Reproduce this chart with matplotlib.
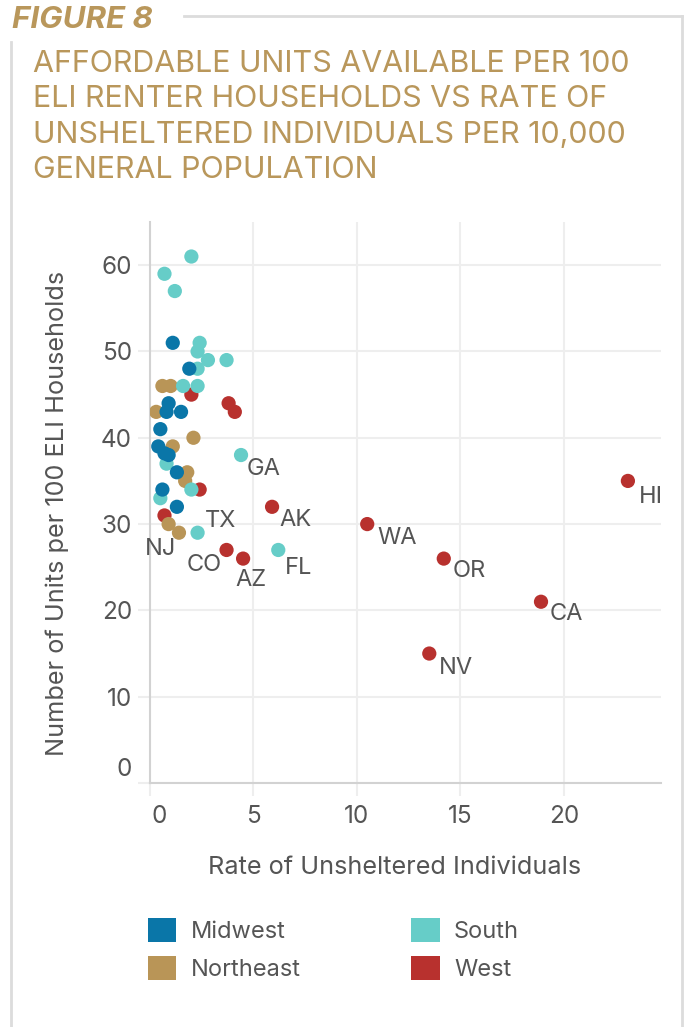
import matplotlib
matplotlib.use('Agg')
from matplotlib import pyplot as plt
from matplotlib.lines import Line2D
from matplotlib.patches import Patch
from matplotlib.transforms import ScaledTranslation

# values
midwest_x = [1.1, 1.9, 0.9, 0.8, 1.5, 0.5, 0.4, 0.7, 0.9, 1.3, 0.6, 1.3]
midwest_y = [51, 48, 44, 43, 43, 41, 39, 38.2, 38, 36, 34, 32]

northeast_x = [0.6, 1.0, 0.3, 2.1, 1.1, 1.8, 1.7, 0.9, 1.4]
northeast_y = [46, 46, 43, 40, 39, 36, 35, 30, 29]
northeast_states = ['', '', '', '', '', '', '', '', 'NJ']

south_x = [2.0, 0.7, 1.2, 2.4, 2.3, 2.8, 3.7, 2.3, 1.6, 2.3, 0.8, 4.4, 2.0, 0.5, 2.3, 6.2]
south_y = [61, 59, 57, 51, 50, 49, 49, 48, 46, 46, 37, 38, 34, 33, 29, 27]
south_states = ['', '', '', '', '', '', '', '', '', '', '', 'GA', '', '', 'TX', 'FL']

west_x = [2.0, 3.8, 4.1, 2.4, 0.7, 3.7, 4.5, 5.9, 23.1, 10.5, 14.2, 18.9, 13.5]
west_y = [45, 44, 43, 34, 31, 27, 26, 32, 35, 30, 26, 21, 15]
west_states = ['', '', '', '', '', 'CO', 'AZ', 'AK', 'HI', 'WA', 'OR', 'CA', 'NV']

x_ticks = [0, 5, 10, 15, 20]
y_ticks = [0, 10, 20, 30, 40, 50, 60]

regions = ['Midwest', 'Northeast', 'South', 'West']
colors = {'Midwest': '#0a76a8', 'Northeast': '#b99557',
          'South': '#66cdc8', 'West': '#b8312e'}

GOLD = '#b9975b'
GRAY = '#555555'
GRID = '#eeeeee'
plt.rcParams['font.family'] = ['Inter', 'DejaVu Sans']

W, H = 688, 1027
fig = plt.figure(figsize=(W / 100, H / 100), dpi=100)

# frame around the figure
for xs, ys in [((184, 682), (16, 16)), ((682, 682), (16, 1027)), ((11, 11), (42, 1027))]:
    fig.add_artist(Line2D([x / W for x in xs], [1 - y / H for y in ys],
                          color='#dcdcdc', lw=2, transform=fig.transFigure))

fig.text(12 / W, 1 - 20 / H, 'FIGURE 8', color=GOLD, fontsize=22.5,
         fontweight='bold', style='italic', va='center', ha='left')
title = ('AFFORDABLE UNITS AVAILABLE PER 100\nELI RENTER HOUSEHOLDS VS RATE OF\n'
         'UNSHELTERED INDIVIDUALS PER 10,000\nGENERAL POPULATION')
fig.text(33 / W, 1 - 50 / H, title, color=GOLD, fontsize=21.9, va='top', ha='left',
         linespacing=1.34)

ax = fig.add_axes([150 / W, 1 - 783 / H, (661 - 150) / W, (783 - 222) / H])
ax.set_xlim(0, 24.7)
ax.set_ylim(0, 65)

series = [
    ('West', west_x, west_y, west_states, 2),
    ('Northeast', northeast_x, northeast_y, northeast_states, 3),
    ('South', south_x, south_y, south_states, 4),
    ('Midwest', midwest_x, midwest_y, [''] * len(midwest_x), 5),
]

# label offsets in pixels (dx, dy, ha)
offsets = {
    'HI': (11, -16, 'left'), 'WA': (10, -14, 'left'), 'OR': (9, -12, 'left'),
    'CA': (9, -12, 'left'), 'NV': (10, -14, 'left'), 'GA': (6, -14, 'left'),
    'AK': (7, -13, 'left'), 'FL': (7, -18, 'left'), 'AZ': (-8, -21, 'left'),
    'CO': (-5, -15, 'right'), 'TX': (7, 12, 'left'), 'NJ': (-3, -16, 'right'),
}

for name, xs, ys, states, z in series:
    ax.scatter(xs, ys, s=105, color=colors[name], edgecolors='none', zorder=z)
    for x, y, st in zip(xs, ys, states):
        if st:
            dx, dy, ha = offsets[st]
            ax.annotate(st, (x, y), xytext=(dx, dy), textcoords='offset pixels',
                        ha=ha, va='center', fontsize=17, color=GRAY, zorder=6)

ax.set_xticks(x_ticks)
ax.set_yticks(y_ticks)
ax.grid(True, color=GRID, lw=1.5, zorder=0)
ax.set_axisbelow(True)
for side in ['top', 'right']:
    ax.spines[side].set_visible(False)
for side in ['left', 'bottom']:
    ax.spines[side].set_color('#d2d2d2')
    ax.spines[side].set_linewidth(1.5)
ax.tick_params(axis='both', length=9, width=1.5, color=GRID, labelsize=17.5,
               labelcolor=GRAY)
ax.tick_params(axis='x', pad=7)
ax.tick_params(axis='y', pad=4)

# the reference nudges the two zero labels away from the corner
xt0 = ax.xaxis.get_major_ticks()[0].label1
xt0.set_transform(xt0.get_transform() + ScaledTranslation(0.09, 0, fig.dpi_scale_trans))
yt0 = ax.yaxis.get_major_ticks()[0].label1
yt0.set_transform(yt0.get_transform() + ScaledTranslation(0, 0.16, fig.dpi_scale_trans))

fig.text(57 / W, 1 - 513 / H, 'Number of Units per 100 ELI Households', rotation=90,
         ha='center', va='center', fontsize=18.2, color=GRAY)
fig.text(395 / W, 1 - 868 / H, 'Rate of Unsheltered Individuals',
         ha='center', va='center', fontsize=18.2, color=GRAY)

handles = [Patch(facecolor=colors[r], edgecolor='none', label=r) for r in regions]
fig.legend(handles=handles, ncol=2, frameon=False, loc='upper left',
           bbox_to_anchor=(148 / W, 1 - 918 / H), borderpad=0, borderaxespad=0,
           fontsize=17, labelcolor=GRAY, handlelength=1.2, handleheight=1.2,
           handletextpad=0.6, columnspacing=4.7, labelspacing=0.55)

fig.savefig('out.png', dpi=100)
